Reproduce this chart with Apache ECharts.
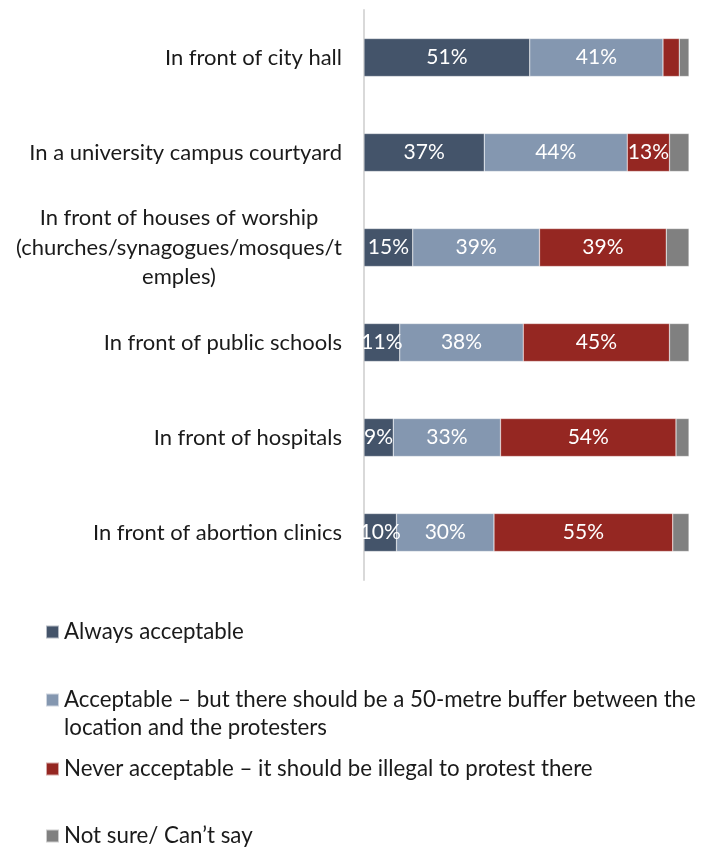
<!DOCTYPE html>
<html><head><meta charset="utf-8">
<script src="https://cdn.jsdelivr.net/npm/echarts@6/dist/echarts.min.js"></script>
<style>html,body{margin:0;padding:0;background:#fff}#c{width:702px;height:848px}</style>
</head><body><div id="c"></div>
<script>
const categories = [
  "In front of city hall",
  "In a university campus courtyard",
  "In front of houses of worship\n(churches/synagogues/mosques/t\nemples)",
  "In front of public schools",
  "In front of hospitals",
  "In front of abortion clinics"
];
const seriesNames = [
  "Always acceptable",
  "Acceptable \u2013 but there should be a 50-metre buffer between the location and the protesters",
  "Never acceptable \u2013 it should be illegal to protest there",
  "Not sure/ Can\u2019t say"
];
const legendTexts = [
  "Always acceptable",
  " \nAcceptable \u2013 but there should be a 50-metre buffer between the\nlocation and the protesters",
  "Never acceptable \u2013 it should be illegal to protest there",
  "Not sure/ Can\u2019t say"
];
const alwaysAcceptable = [51, 37, 15, 11, 9, 10];
const acceptableBuffer = [41, 44, 39, 38, 33, 30];
const neverAcceptable = [5, 13, 39, 45, 54, 55];
const notSure = [3, 6, 7, 6, 4, 5];
const colors = ["#44546A", "#8497B0", "#952722", "#808080"];
const showLabel = [true, true, true, false];
const minLabel = [0, 0, 6, 100];

const FONT = "Lato, 'Open Sans', sans-serif";
const dataSets = [alwaysAcceptable, acceptableBuffer, neverAcceptable, notSure];

const series = dataSets.map((d, i) => ({
  name: seriesNames[i],
  type: 'bar',
  stack: 'total',
  barWidth: '40%',
  data: d,
  itemStyle: { color: colors[i], borderColor: 'rgba(255,255,255,0.6)', borderWidth: 0.5 },
  label: {
    show: showLabel[i],
    position: 'inside',
    color: '#fff',
    fontFamily: FONT,
    fontSize: 21,
    formatter: p => (p.value >= minLabel[i] ? p.value + '%' : '')
  },
  emphasis: { disabled: true }
}));

const legendTops = [618, 658, 755, 822];
const legends = seriesNames.map((n, i) => ({
  data: [n],
  left: 45,
  top: legendTops[i],
  padding: 0,
  orient: 'vertical',
  icon: 'rect',
  itemWidth: 13,
  itemHeight: 13,
  selectedMode: false,
  formatter: () => legendTexts[i],
  textStyle: {
    fontFamily: FONT, fontSize: 22.3, color: '#1a1a1a',
    lineHeight: 28
  }
}));

const chart = echarts.init(document.getElementById('c'), null, { renderer: 'canvas' });
chart.setOption({
  animation: false,
  backgroundColor: '#fff',
  grid: { left: 364, right: 13, top: 10, bottom: 268, containLabel: false },
  legend: legends,
  xAxis: {
    type: 'value', min: 0, max: 100,
    show: false
  },
  yAxis: {
    type: 'category',
    data: categories,
    inverse: true,
    axisLine: { show: true, lineStyle: { color: '#d9d9d9', width: 2 } },
    axisTick: { show: false },
    axisLabel: {
      margin: 22,
      color: '#1a1a1a',
      fontFamily: FONT,
      fontSize: 22,
      lineHeight: 29.5,
      formatter: v => v.split('\n').map(s => '{c|' + s + '}').join('\n'),
      rich: { c: { align: 'center', fontFamily: FONT, fontSize: 22, lineHeight: 29.5, color: '#1a1a1a' } }
    }
  },
  series: series
});
</script>
</body></html>
